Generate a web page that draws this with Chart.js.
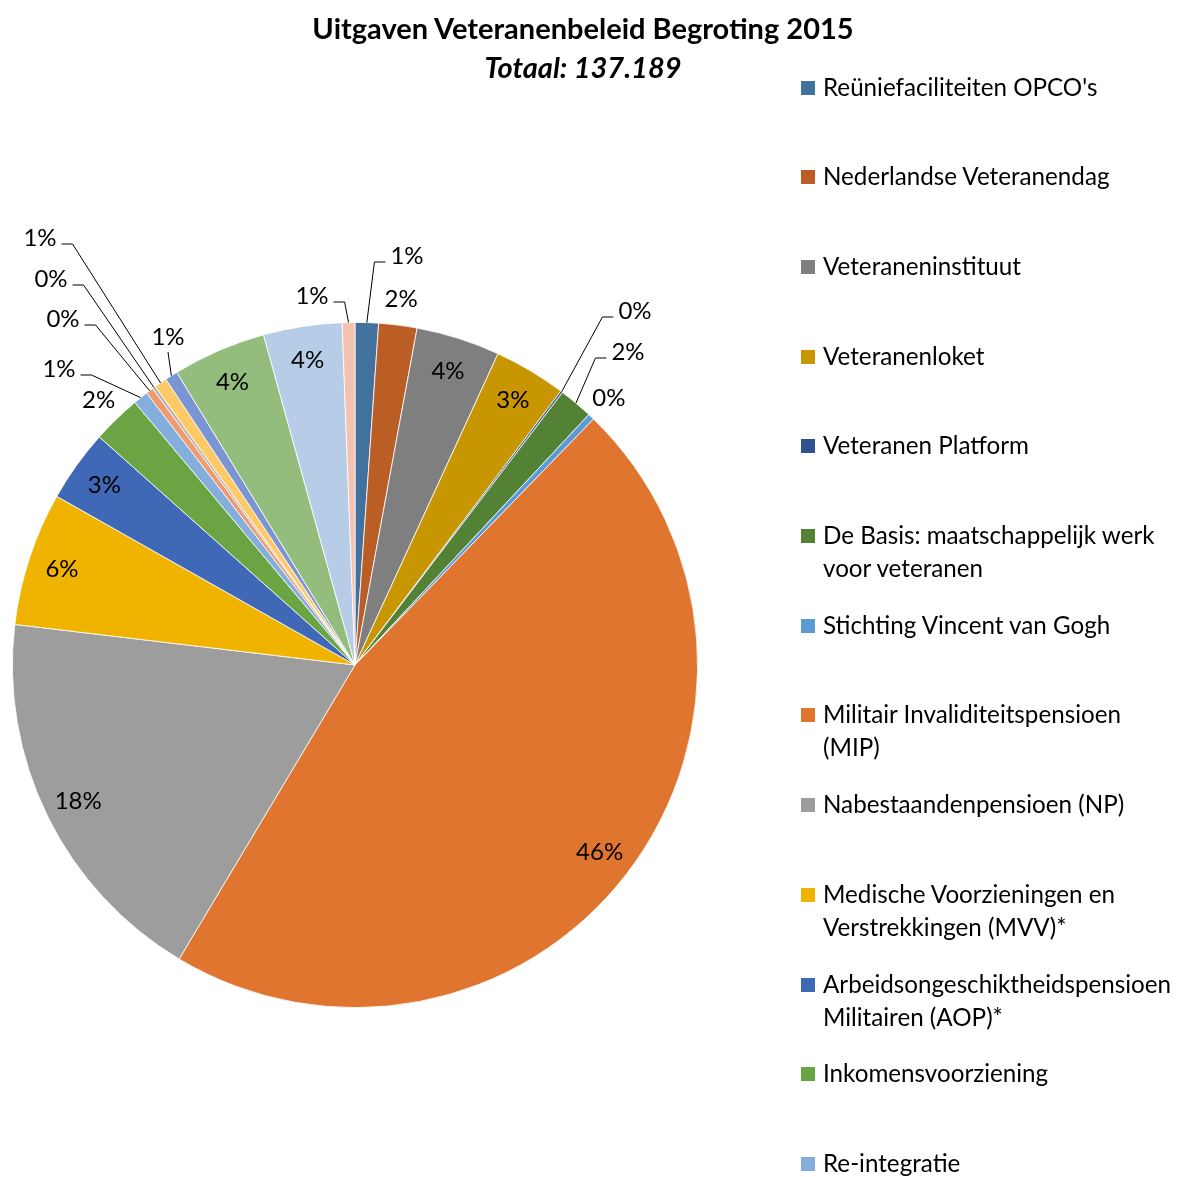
<!DOCTYPE html>
<html>
<head>
<meta charset="utf-8">
<script src="https://cdn.jsdelivr.net/npm/chart.js@4.4.0/dist/chart.umd.min.js"></script>
<style>
  html, body { margin: 0; padding: 0; background: #fff; }
  #wrap { position: relative; width: 1186px; height: 1177px; overflow: hidden; font-family: Lato, sans-serif; color: #000; }
  #chart-box { position: absolute; left: 0; top: 0; width: 1186px; height: 1177px; }
  #title { position: absolute; left: 0; top: 8px; width: 1166px; text-align: center; font-weight: bold; font-size: 29px; line-height: 39px; }
  #title .sub { font-style: italic; }
  #legend { position: absolute; left: 801px; top: 0; width: 385px; height: 1177px; overflow: hidden; }
  .legend-item { position: absolute; left: 0; display: flex; align-items: flex-start; }
  .legend-box { width: 14px; height: 14px; margin-top: 11px; flex: none; }
  .legend-text { margin-left: 8px; font-size: 24.2px; line-height: 33px; white-space: nowrap; }
</style>
</head>
<body>
<div id="wrap">
  <div id="chart-box"><canvas id="pie"></canvas></div>
  <div id="title">Uitgaven Veteranenbeleid Begroting 2015<br><span class="sub">Totaal: 137.189</span></div>
  <div id="legend"></div>
</div>
<script>
// budget lines, in legend order (last ones fall below the picture edge)
const categories = [
  "Reüniefaciliteiten OPCO's",
  'Nederlandse Veteranendag',
  'Veteraneninstituut',
  'Veteranenloket',
  'Veteranen Platform',
  ['De Basis: maatschappelijk werk', 'voor veteranen'],
  'Stichting Vincent van Gogh',
  ['Militair Invaliditeitspensioen', '(MIP)'],
  'Nabestaandenpensioen (NP)',
  ['Medische Voorzieningen en', 'Verstrekkingen (MVV)*'],
  ['Arbeidsongeschiktheidspensioen', 'Militairen (AOP)*'],
  'Inkomensvoorziening',
  'Re-integratie',
  'Overige post 1',
  'Overige post 2',
  'Overige post 3',
  'Overige post 4',
  'Overige post 5',
  'Overige post 6',
  'Overige post 7',
];

// share of the total, in percent
const shares = [1.1, 1.8, 3.95, 3.4, 0.1, 1.6, 0.3, 46.3, 18.3, 6.3, 3.4, 2.3, 0.7, 0.35, 0.15, 0.6, 0.6, 4.4, 3.7, 0.6];

const colors = [
  '#41719C', '#BB5E26', '#7F7F7F', '#C79600', '#2F528F', '#548235',
  '#5B9BD5', '#E0752F', '#9D9D9D', '#F0B400', '#3F69B6', '#6AA443',
  '#84AFDC', '#F09A70', '#B4B4B4', '#FFC966', '#7B95D2', '#94BC7C',
  '#B6CCE7', '#F4C2B1',
];

// how each percentage label is placed: inside, just outside, or with a leader line
const labelModes = [
  'lead', 'out', 'in', 'in', 'lead', 'lead', 'out', 'in', 'in', 'in',
  'in', 'out', 'lead', 'lead', 'lead', 'lead', 'lead', 'in', 'in', 'lead',
];
// text spot (offset from the pie centre) for leader-line labels
const labelSpots = {
  0: [52, -409],
  4: [280, -354],
  5: [273, -313],
  12: [-296, -296],
  13: [-292, -346],
  14: [-304, -386],
  15: [-315, -427],
  16: [-187, -328],
  19: [-43, -369],
};

const LABEL_FONT = '24px Lato, sans-serif';

const pctLabels = {
  id: 'pctLabels',
  afterDatasetsDraw(chart) {
    const { ctx } = chart;
    const data = chart.data.datasets[0].data;
    const total = data.reduce((a, b) => a + b, 0);
    ctx.save();
    ctx.font = LABEL_FONT;
    ctx.fillStyle = '#000';
    ctx.strokeStyle = '#000';
    ctx.lineWidth = 1;
    ctx.textAlign = 'center';
    ctx.textBaseline = 'middle';
    chart.getDatasetMeta(0).data.forEach((arc, i) => {
      const { x, y, startAngle, endAngle, outerRadius } =
        arc.getProps(['x', 'y', 'startAngle', 'endAngle', 'outerRadius'], true);
      const mid = (startAngle + endAngle) / 2;
      const text = Math.round(data[i] / total * 100) + '%';
      const mode = labelModes[i];
      if (mode !== 'lead') {
        const k = mode === 'in' ? 0.9 : 1.075;
        ctx.fillText(text, x + Math.cos(mid) * outerRadius * k, y + Math.sin(mid) * outerRadius * k);
        return;
      }
      const tx = x + labelSpots[i][0];
      const ty = y + labelSpots[i][1];
      const ax = x + Math.cos(mid) * outerRadius;
      const ay = y + Math.sin(mid) * outerRadius;
      const half = ctx.measureText(text).width / 2;
      ctx.fillText(text, tx, ty);
      ctx.beginPath();
      if (Math.abs(ax - tx) < half) {
        ctx.moveTo(tx, ty + 15);
      } else {
        const dir = ax > tx ? 1 : -1;
        const sx = tx + dir * (half + 5);
        ctx.moveTo(sx, ty + 6);
        ctx.lineTo(sx + dir * 11, ty + 6);
      }
      ctx.lineTo(ax, ay);
      ctx.stroke();
    });
    ctx.restore();
  },
};

function buildLegend(chart) {
  const legend = document.getElementById('legend');
  legend.innerHTML = '';
  const bg = chart.data.datasets[0].backgroundColor;
  chart.data.labels.forEach((label, i) => {
    const item = document.createElement('div');
    item.className = 'legend-item';
    item.style.top = (69.5 + i * 89.7) + 'px';
    const box = document.createElement('div');
    box.className = 'legend-box';
    box.style.background = bg[i];
    const txt = document.createElement('div');
    txt.className = 'legend-text';
    (Array.isArray(label) ? label : [label]).forEach((line, j) => {
      if (j) txt.appendChild(document.createElement('br'));
      txt.appendChild(document.createTextNode(line));
    });
    item.appendChild(box);
    item.appendChild(txt);
    legend.appendChild(item);
  });
}

const chart = new Chart(document.getElementById('pie'), {
  type: 'pie',
  data: {
    labels: categories,
    datasets: [{
      data: shares,
      backgroundColor: colors,
      borderColor: '#ffffff',
      borderWidth: 0.8,
      hoverOffset: 0,
    }],
  },
  options: {
    responsive: true,
    maintainAspectRatio: false,
    animation: false,
    events: [],
    layout: { padding: { left: 12, right: 488, top: 322, bottom: 169 } },
    plugins: {
      legend: { display: false },
      tooltip: { enabled: false },
      title: { display: false },
    },
  },
  plugins: [pctLabels],
});

buildLegend(chart);
</script>
</body>
</html>
